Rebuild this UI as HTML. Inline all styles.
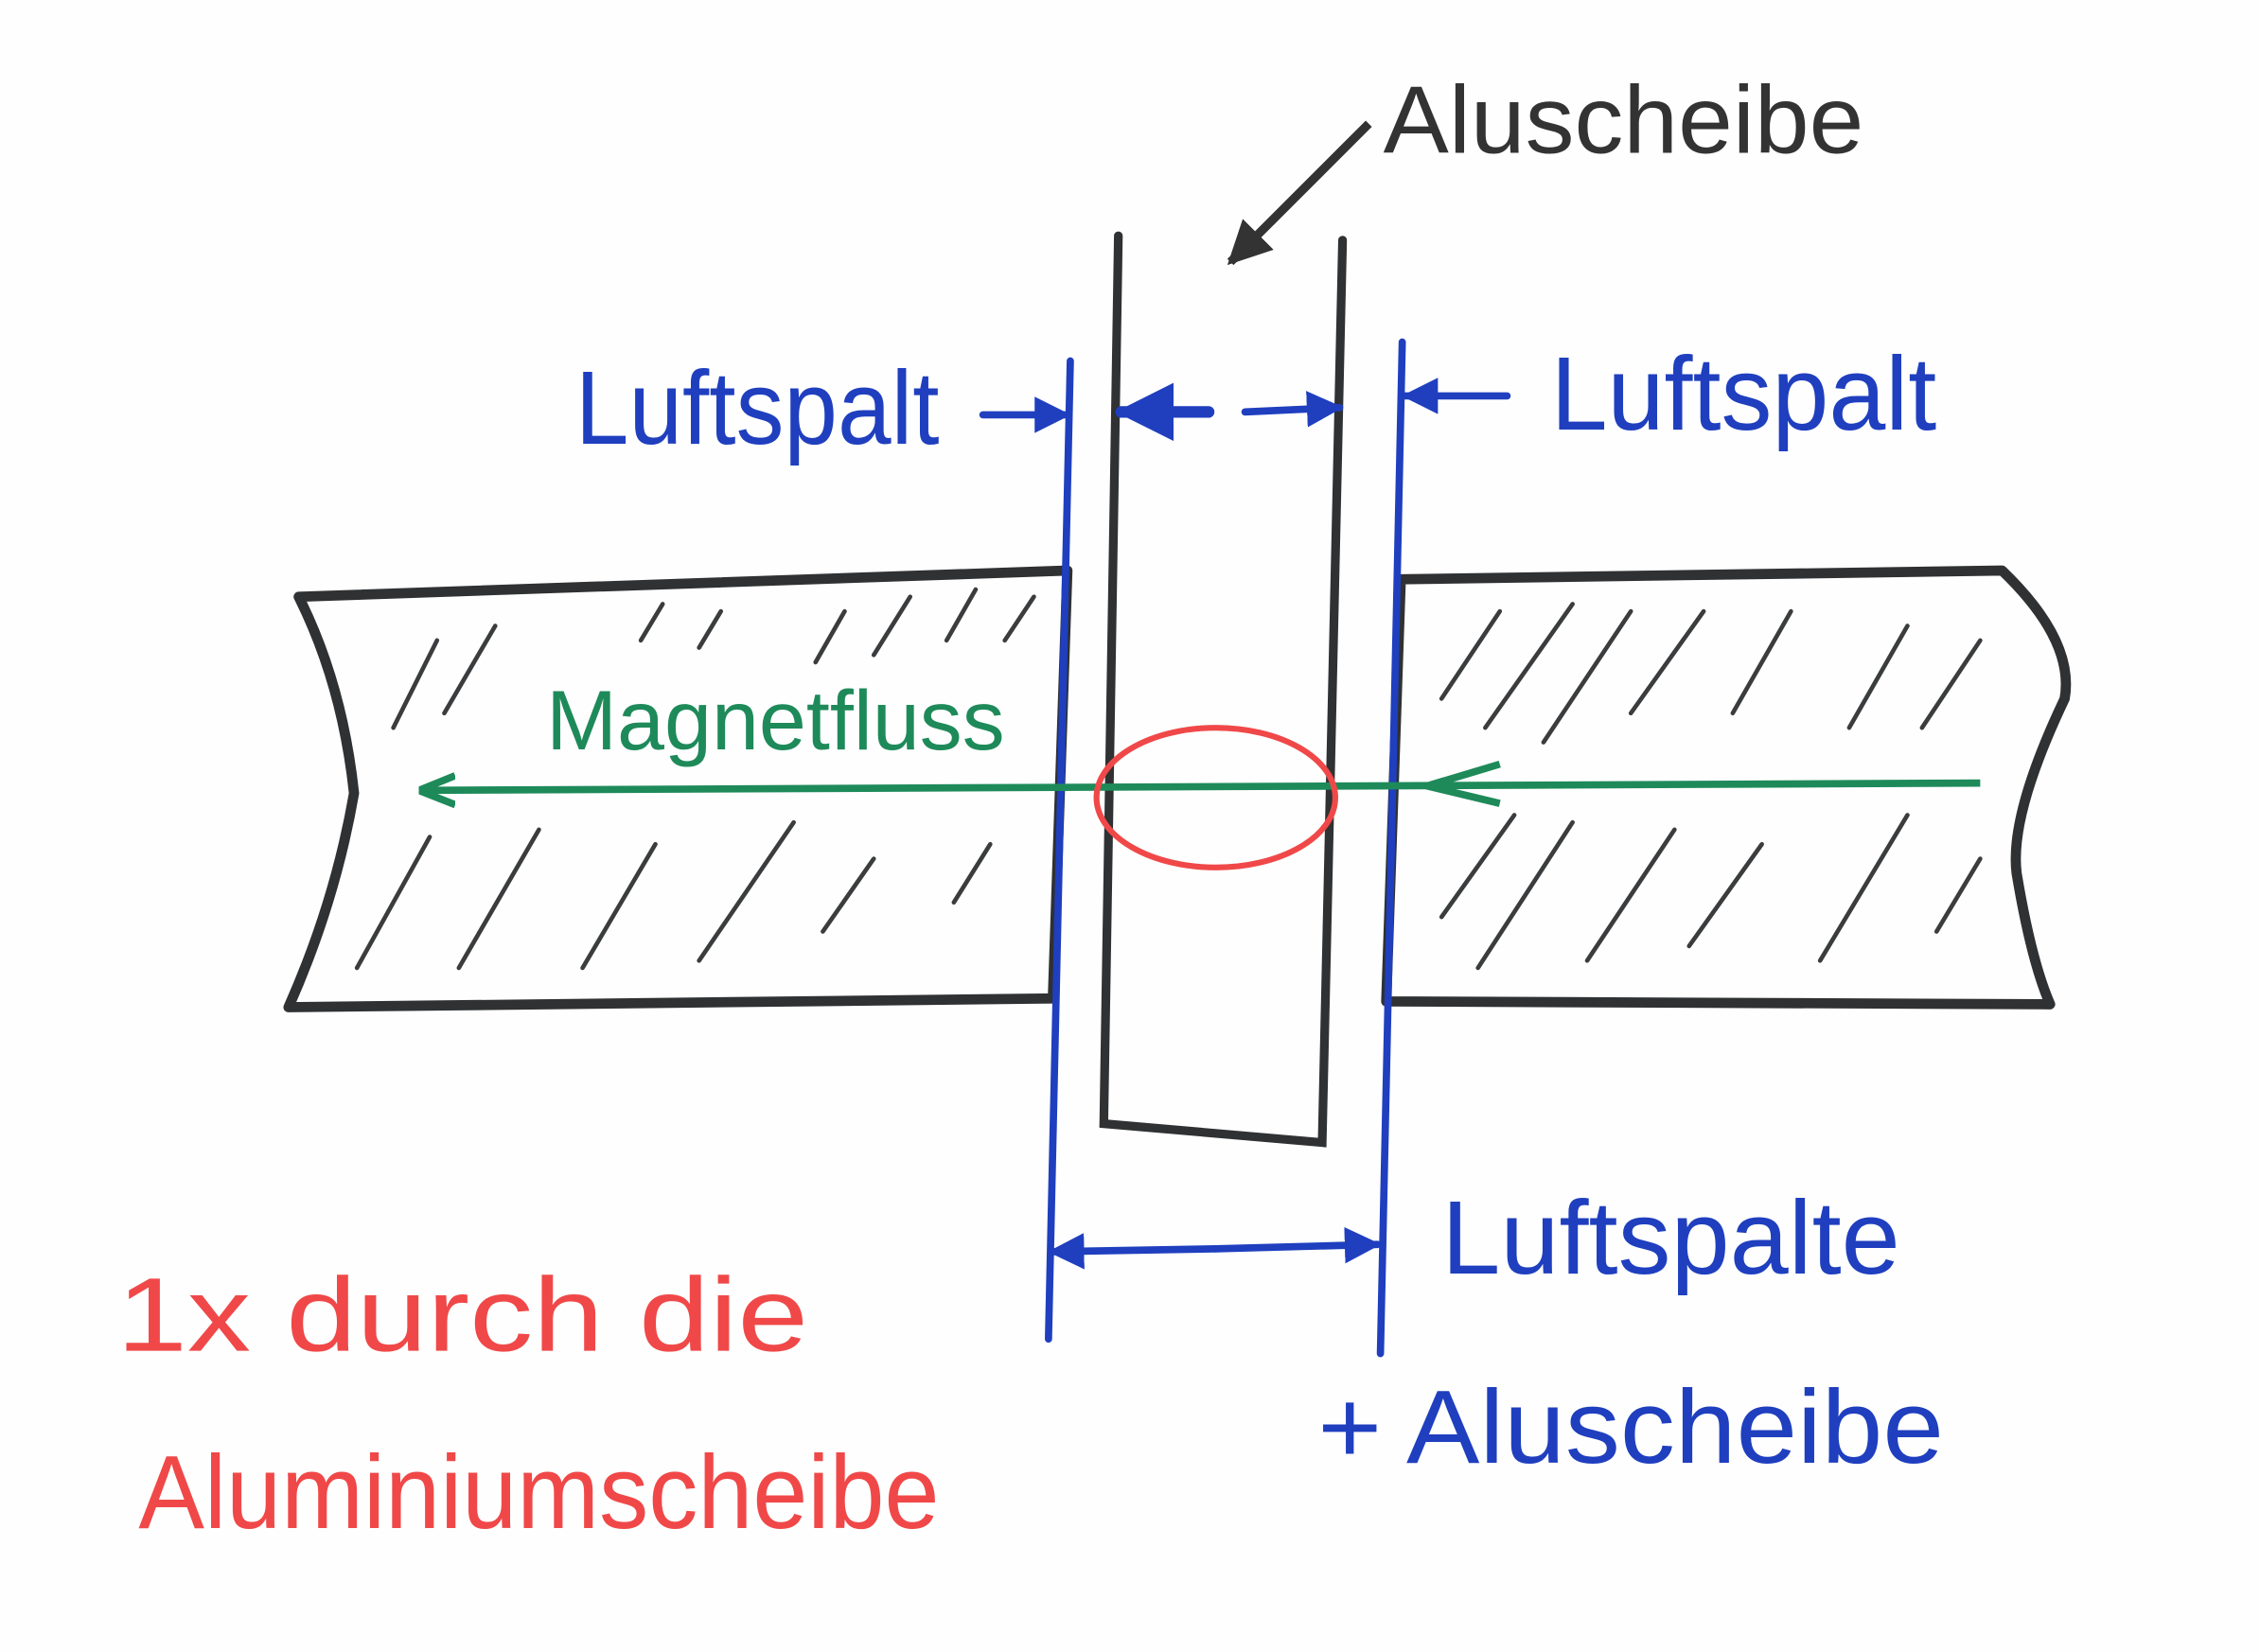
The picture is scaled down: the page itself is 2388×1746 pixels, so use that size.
<!DOCTYPE html>
<html><head><meta charset="utf-8"><style>
html,body{margin:0;padding:0;background:#fff;}
svg{display:block;}
text{font-family:"Liberation Sans",sans-serif;}
</style></head><body>
<svg width="2388" height="1746" viewBox="0 0 1552 1135" xmlns="http://www.w3.org/2000/svg">
<rect width="1552" height="1135" fill="#fefefe"/>
<defs>
<marker id="ab" viewBox="0 0 10 10" refX="9" refY="5" markerWidth="5" markerHeight="5" orient="auto"><path d="M0,0 L10,5 L0,10 z" fill="#1f3fbf"/></marker>
<marker id="ag" viewBox="0 0 10 10" refX="9" refY="5" markerWidth="5" markerHeight="5" orient="auto"><path d="M0,1 L10,5 L0,9" fill="none" stroke="#1e8a5a" stroke-width="2"/></marker>
<marker id="ak" viewBox="0 0 10 10" refX="9" refY="5" markerWidth="5" markerHeight="5" orient="auto"><path d="M0,0 L10,5 L0,10 z" fill="#333"/></marker>
</defs>
<g fill="none" stroke="#2f3133" stroke-width="7" stroke-linejoin="round">
<path d="M205,410 L733,392 L723,686 L198,692 Q230,620 243,545 Q235,470 205,410 Z"/>
</g>
<g fill="none" stroke="#2f3133" stroke-width="7" stroke-linejoin="round">
<path d="M962,398 L1375,392 Q1425,440 1418,480 Q1380,560 1385,600 Q1395,660 1408,690 L952,688 Z"/>
</g>
<g stroke="#3a3c3e" stroke-width="3" stroke-linecap="round">
<line x1="270" y1="500" x2="300" y2="440"/><line x1="305" y1="490" x2="340" y2="430"/><line x1="440" y1="440" x2="455" y2="415"/><line x1="480" y1="445" x2="495" y2="420"/><line x1="560" y1="455" x2="580" y2="420"/><line x1="600" y1="450" x2="625" y2="410"/><line x1="650" y1="440" x2="670" y2="405"/><line x1="690" y1="440" x2="710" y2="410"/>
<line x1="245" y1="665" x2="295" y2="575"/><line x1="315" y1="665" x2="370" y2="570"/><line x1="400" y1="665" x2="450" y2="580"/><line x1="480" y1="660" x2="545" y2="565"/><line x1="565" y1="640" x2="600" y2="590"/><line x1="655" y1="620" x2="680" y2="580"/>
<line x1="990" y1="480" x2="1030" y2="420"/><line x1="1020" y1="500" x2="1080" y2="415"/><line x1="1060" y1="510" x2="1120" y2="420"/><line x1="1120" y1="490" x2="1170" y2="420"/><line x1="1190" y1="490" x2="1230" y2="420"/><line x1="1270" y1="500" x2="1310" y2="430"/><line x1="1320" y1="500" x2="1360" y2="440"/>
<line x1="990" y1="630" x2="1040" y2="560"/><line x1="1015" y1="665" x2="1080" y2="565"/><line x1="1090" y1="660" x2="1150" y2="570"/><line x1="1160" y1="650" x2="1210" y2="580"/><line x1="1250" y1="660" x2="1310" y2="560"/><line x1="1330" y1="640" x2="1360" y2="590"/>
</g>
<g fill="none" stroke="#2f3133" stroke-width="6" stroke-linecap="round">
<path d="M768,162 L758,772 L908,785 L922,165"/>
</g>
<g stroke="#1f3fbf" stroke-width="5" fill="none" stroke-linecap="round">
<line x1="735" y1="248" x2="720" y2="920"/><line x1="963" y1="235" x2="948" y2="930"/>
<line x1="675" y1="285" x2="733" y2="285" marker-end="url(#ab)"/>
<line x1="830" y1="283" x2="770" y2="283" marker-end="url(#ab)" stroke-width="8"/>
<line x1="855" y1="283" x2="920" y2="280" marker-end="url(#ab)"/>
<line x1="1035" y1="272" x2="965" y2="272" marker-end="url(#ab)"/>
<line x1="835" y1="858" x2="722" y2="860" marker-end="url(#ab)"/>
<line x1="835" y1="858" x2="946" y2="855" marker-end="url(#ab)"/>
</g>
<g stroke="#1e8a5a" stroke-width="5" fill="none">
<line x1="1360" y1="538" x2="290" y2="543" marker-end="url(#ag)"/>
<path d="M1030,525 L980,540 L1030,552"/>
</g>
<ellipse cx="835" cy="548" rx="82" ry="48" fill="none" stroke="#f04848" stroke-width="4"/>
<line x1="940" y1="85" x2="845" y2="180" stroke="#333" stroke-width="6" marker-end="url(#ak)"/>
<text x="950" y="105" font-size="66" fill="#333" textLength="330" lengthAdjust="spacingAndGlyphs">Aluscheibe</text>
<text x="395" y="305" font-size="72" fill="#1f3fbf" textLength="250" lengthAdjust="spacingAndGlyphs">Luftspalt</text>
<text x="1065" y="295" font-size="72" fill="#1f3fbf" textLength="265" lengthAdjust="spacingAndGlyphs">Luftspalt</text>
<text x="375" y="515" font-size="58" fill="#1e8a5a" textLength="315" lengthAdjust="spacingAndGlyphs">Magnetfluss</text>
<text x="990" y="875" font-size="72" fill="#1f3fbf" textLength="315" lengthAdjust="spacingAndGlyphs">Luftspalte</text>
<text x="905" y="1005" font-size="72" fill="#1f3fbf" textLength="430" lengthAdjust="spacingAndGlyphs">+ Aluscheibe</text>
<text x="80" y="928" font-size="72" fill="#f04848" textLength="475" lengthAdjust="spacingAndGlyphs">1x durch die</text>
<text x="95" y="1050" font-size="72" fill="#f04848" textLength="550" lengthAdjust="spacingAndGlyphs">Aluminiumscheibe</text>
</svg>
</body></html>
